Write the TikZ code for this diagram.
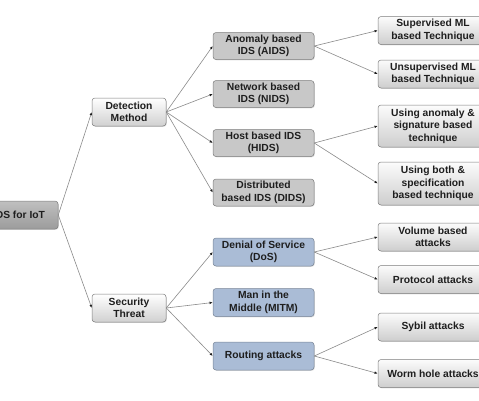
\documentclass[tikz,border=0pt]{standalone}
\usepackage{fontspec}
\setmainfont{Liberation Sans}
\usetikzlibrary{arrows.meta,shadows}
\definecolor{txt}{HTML}{1E1E1E}
\definecolor{edge}{HTML}{8A8A8A}
\definecolor{lvltwo}{HTML}{C8C8C8}
\definecolor{bluebox}{HTML}{AABCD6}
\definecolor{rootgray}{HTML}{A4A4A4}
\tikzset{
  base/.style={rounded corners=3pt, draw=edge!90!black, line width=0.5pt, align=center,
    font=\fontsize{10.3}{12.5}\selectfont\bfseries, text=txt, inner sep=1pt,
    drop shadow={shadow xshift=0.8pt, shadow yshift=-0.8pt, opacity=0.25}},
  rootbox/.style={base, top color=rootgray!70, bottom color=rootgray!95!black, minimum width=78pt, minimum height=28pt},
  onebox/.style={base, top color=white, bottom color=lvltwo!85, minimum width=74pt, minimum height=28pt},
  twobox/.style={base, fill=lvltwo, minimum width=101pt, minimum height=27pt},
  bluetwo/.style={base, fill=bluebox, draw=bluebox!70!black, minimum width=101pt, minimum height=28pt},
  threebox/.style={base, top color=white!94!lvltwo, bottom color=lvltwo!90, minimum width=110pt, minimum height=28pt},
  link/.style={draw=edge, line width=0.6pt, -{Latex[length=3.2pt,width=2.6pt,color=txt]}}
}
\begin{document}
\begin{tikzpicture}[x=1pt,y=-1pt]
\useasboundingbox (0,0) rectangle (479,400);
\clip (0,0) rectangle (479,400);
% root
\node[rootbox] (root) at (19,215) {IDS for IoT};
% level 1
\node[onebox] (dm) at (129,112) {Detection\\Method};
\node[onebox] (st) at (129,308) {Security\\Threat};
% level 2
\node[twobox] (aids) at (263.5,46) {Anomaly based\\IDS (AIDS)};
\node[twobox] (nids) at (263.5,94) {Network based\\IDS (NIDS)};
\node[twobox] (hids) at (263.5,143) {Host based IDS\\(HIDS)};
\node[twobox] (dids) at (263.5,192.5) {Distributed\\based IDS (DIDS)};
\node[bluetwo] (dos) at (263.5,252) {Denial of Service\\(DoS)};
\node[bluetwo] (mitm) at (263.5,302.5) {Man in the\\Middle (MITM)};
\node[bluetwo] (rout) at (263.5,356) {Routing attacks};
% level 3
\node[threebox] (sup) at (433,30.5) {Supervised ML\\based Technique};
\node[threebox] (unsup) at (433,74) {Unsupervised ML\\based Technique};
\node[threebox, minimum height=42pt] (anom) at (433,126) {Using anomaly \&\\signature based\\technique};
\node[threebox, minimum height=43pt] (both) at (433,183.5) {Using both \&\\specification\\based technique};
\node[threebox] (vol) at (433,237) {Volume based\\attacks};
\node[threebox] (proto) at (433,279.5) {Protocol attacks};
\node[threebox] (sybil) at (433,327) {Sybil attacks};
\node[threebox] (worm) at (433,373.5) {Worm hole attacks};
% connectors
\draw[link] (root.east) -- (dm.west);
\draw[link] (root.east) -- (st.west);
\foreach \c in {aids,nids,hids,dids} \draw[link] (dm.east) -- (\c.west);
\foreach \c in {dos,mitm,rout} \draw[link] (st.east) -- (\c.west);
\draw[link] (aids.east) -- (sup.west);
\draw[link] (aids.east) -- (unsup.west);
\draw[link] (hids.east) -- (anom.west);
\draw[link] (hids.east) -- (both.west);
\draw[link] (dos.east) -- (vol.west);
\draw[link] (dos.east) -- (proto.west);
\draw[link] (rout.east) -- (sybil.west);
\draw[link] (rout.east) -- (worm.west);
\end{tikzpicture}
\end{document}
